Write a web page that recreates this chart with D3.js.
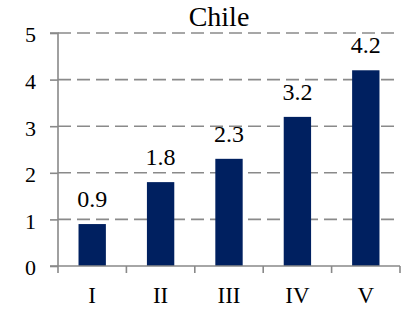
<!DOCTYPE html>
<html><head><meta charset="utf-8">
<script src="https://cdn.jsdelivr.net/npm/d3@7"></script>
<style>body{margin:0;background:#fff}svg{display:block}</style>
</head><body>
<script>
const title = "Chile";
const categories = ["I","II","III","IV","V"];
const values = [0.9, 1.8, 2.3, 3.2, 4.2];
const yTicks = [0,1,2,3,4,5];

const W = 405, H = 309;
const FONT = '"Liberation Serif"';
const svg = d3.select("body").append("svg").attr("width", W).attr("height", H);
const x = d3.scaleBand().domain(categories).range([58, 400]).paddingInner(0.6).paddingOuter(0.3);
const y = d3.scaleLinear().domain([0,5]).range([266, 33]);
const axisColor = "#898989";

// gridlines
svg.append("g").selectAll("line").data(yTicks.filter(d => d > 0)).join("line")
  .attr("x1", 58).attr("x2", 400).attr("y1", d => y(d)).attr("y2", d => y(d))
  .attr("stroke", "#8a8a8a").attr("stroke-width", 1.6).attr("stroke-dasharray", "13,6");

// bars
svg.append("g").selectAll("rect").data(values).join("rect")
  .attr("x", (d,i) => x(categories[i])).attr("width", x.bandwidth())
  .attr("y", d => y(d)).attr("height", d => y(0) - y(d)).attr("fill", "#002060");

// value labels
svg.append("g").selectAll("text").data(values).join("text")
  .attr("x", (d,i) => x(categories[i]) + x.bandwidth()/2).attr("y", d => y(d) - 17)
  .attr("text-anchor", "middle").style("font-family", FONT).style("font-size", "24px").text(d => d.toFixed(1));

// y axis
const yAxis = d3.axisLeft(y).tickValues(yTicks).tickSize(8).tickPadding(14).tickFormat(d3.format("d"));
const gy = svg.append("g").attr("transform", "translate(58,0)").call(yAxis);
gy.select(".domain").attr("stroke", axisColor).attr("stroke-width", 1.6).attr("d", "M-8,33H0V266");
gy.selectAll(".tick line").attr("stroke", axisColor).attr("stroke-width", 1.6);
gy.selectAll(".tick text").style("font-family", FONT).style("font-size", "22px").attr("fill", "#000").attr("dy", "0.4em");

// x axis
const xEdge = d3.scaleLinear().domain([0, categories.length]).range([58, 400]);
const gx = svg.append("g").attr("transform", "translate(0,266)");
gx.append("line").attr("x1", 50).attr("x2", 400).attr("stroke", axisColor).attr("stroke-width", 1.6);
gx.selectAll("line.t").data(d3.range(categories.length + 1)).join("line").attr("class","t")
  .attr("x1", d => xEdge(d)).attr("x2", d => xEdge(d)).attr("y1", 0).attr("y2", 7)
  .attr("stroke", axisColor).attr("stroke-width", 1.6);
gx.selectAll("text").data(categories).join("text")
  .attr("x", d => x(d) + x.bandwidth()/2).attr("y", 37)
  .attr("text-anchor", "middle").style("font-family", FONT).style("font-size", "23px").text(d => d);

// title
svg.append("text").attr("x", 219).attr("y", 26).attr("text-anchor", "middle")
  .style("font-family", FONT).style("font-size", "28px").text(title);
</script>
</body></html>
